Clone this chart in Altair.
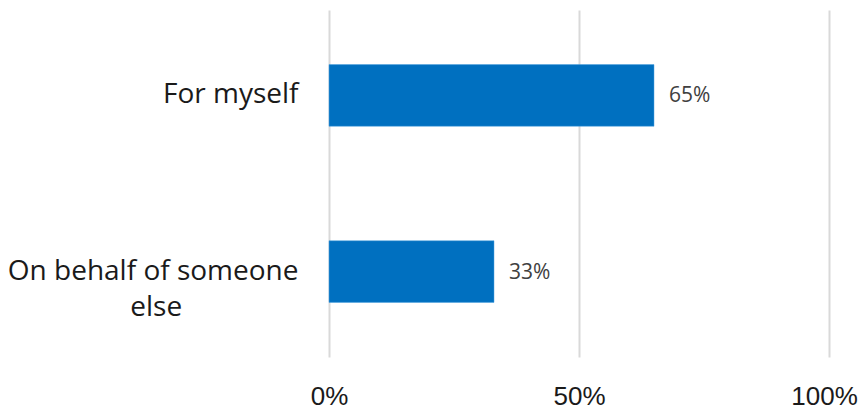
import altair as alt
import pandas as pd

categories = ["For myself", "On behalf of someone else"]
values = [65, 33]
value_labels = ["65%", "33%"]
x_ticks = [0, 50, 100]

df = pd.DataFrame({"cat": categories, "val": values, "lab": value_labels})

NB = "\u00a0"
ZW = "\u200b"
label_expr = (
    "datum.label == 'On behalf of someone else' ? "
    "['On behalf of someone', 'else" + NB * 16 + ZW + "'] : datum.label"
)

FONT = "Open Sans"

y_enc = alt.Y(
    "cat:N",
    sort=categories,
    title=None,
    scale=alt.Scale(paddingInner=0.65, paddingOuter=0.31),
    axis=alt.Axis(
        labelExpr=label_expr,
        labelFont=FONT,
        labelFontSize=28,
        labelColor="#1a1a1a",
        labelAlign="right",
        labelBaseline="middle",
        labelLineHeight=36,
        labelPadding=31,
        ticks=False,
        domain=False,
        grid=False,
        labelLimit=400,
    ),
)

x_enc = alt.X(
    "val:Q",
    title=None,
    scale=alt.Scale(domain=[0, 100], nice=False),
    axis=alt.Axis(
        values=x_ticks,
        labelExpr="datum.value + '%'",
        labelFont="Liberation Sans",
        labelFontSize=26,
        labelColor="#1a1a1a",
        labelPadding=26,
        labelFlush=False,
        labelOverlap=False,
        labelOffset={"condition": {"test": "datum.value == 100", "value": -5}, "value": 0},
        ticks=False,
        domain=False,
        grid=True,
        gridColor="#D9D9D9",
        gridWidth=2,
    ),
)

bars = alt.Chart(df).mark_bar(color="#0070C0", stroke="#4FA3E0", strokeWidth=0.5).encode(
    x=x_enc, y=y_enc
)

texts = alt.Chart(df).mark_text(
    align="left", baseline="middle", dx=15, dy=1, font=FONT, fontSize=21, color="#404040"
).encode(
    x=alt.X("val:Q"),
    y=alt.Y("cat:N", sort=categories),
    text="lab:N",
)

chart = (
    alt.layer(bars, texts)
    .properties(
        width=500,
        height=347,
        background="white",
        autosize=alt.AutoSizeParams(type="none"),
        padding={"left": 321, "top": 2, "right": 29, "bottom": 53},
    )
    .configure_view(stroke="transparent", strokeWidth=0)
)

chart.save("out.html", embed_options={"renderer": "svg", "actions": False})
